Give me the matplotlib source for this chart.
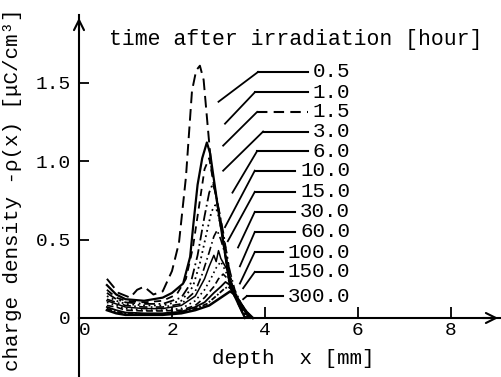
import matplotlib
matplotlib.use("Agg")
import matplotlib.pyplot as plt
import matplotlib.transforms as mtransforms

plt.rcParams['font.family'] = ['Liberation Mono', 'DejaVu Sans Mono', 'DejaVu Sans']

# ---- data ----
hours = ['0.5', '1.0', '1.5', '3.0', '6.0', '10.0', '15.0', '30.0', '60.0', '100.0', '150.0', '300.0']

depth_0_5 = [0.6, 0.85, 1.1, 1.25, 1.4, 1.6, 1.8, 2.0, 2.15, 2.3, 2.43, 2.52, 2.6, 2.68, 2.76, 2.85, 3.0, 3.25, 3.57]
rho_0_5 = [0.25, 0.16, 0.13, 0.18, 0.20, 0.15, 0.17, 0.30, 0.48, 0.90, 1.45, 1.58, 1.61, 1.52, 1.25, 0.95, 0.68, 0.20, 0.0]

depth_1_0 = [0.6, 0.8, 1.0, 1.4, 1.8, 2.0, 2.24, 2.39, 2.46, 2.55, 2.65, 2.75, 2.82, 3.0, 3.25, 3.57]
rho_1_0 = [0.21, 0.15, 0.12, 0.11, 0.13, 0.16, 0.22, 0.39, 0.60, 0.85, 1.02, 1.12, 1.05, 0.68, 0.20, 0.0]

depth_1_5 = [0.6, 0.8, 1.0, 1.4, 1.8, 2.1, 2.3, 2.45, 2.6, 2.7, 2.8, 2.9, 3.05, 3.25, 3.6]
rho_1_5 = [0.18, 0.13, 0.11, 0.10, 0.11, 0.15, 0.25, 0.45, 0.75, 0.95, 1.02, 0.85, 0.62, 0.22, 0.0]

depth_3_0 = [0.6, 0.8, 1.0, 1.4, 1.8, 2.2, 2.4, 2.55, 2.7, 2.8, 2.88, 2.95, 3.1, 3.3, 3.6]
rho_3_0 = [0.16, 0.12, 0.10, 0.09, 0.09, 0.13, 0.22, 0.40, 0.65, 0.80, 0.86, 0.78, 0.55, 0.18, 0.0]

depth_6_0 = [0.6, 0.8, 1.0, 1.4, 1.8, 2.2, 2.45, 2.6, 2.75, 2.85, 2.93, 3.0, 3.15, 3.3, 3.62]
rho_6_0 = [0.14, 0.11, 0.09, 0.08, 0.08, 0.11, 0.20, 0.35, 0.55, 0.68, 0.72, 0.65, 0.45, 0.20, 0.0]

depth_10 = [0.6, 0.8, 1.0, 1.4, 1.8, 2.2, 2.5, 2.65, 2.8, 2.9, 2.97, 3.05, 3.2, 3.35, 3.63]
rho_10 = [0.12, 0.10, 0.08, 0.07, 0.07, 0.09, 0.17, 0.28, 0.42, 0.52, 0.56, 0.50, 0.35, 0.18, 0.0]

depth_15 = [0.6, 0.8, 1.0, 1.4, 1.8, 2.2, 2.5, 2.7, 2.8, 2.9, 2.95, 3.0, 3.05, 3.2, 3.35, 3.65]
rho_15 = [0.11, 0.09, 0.07, 0.06, 0.06, 0.08, 0.14, 0.25, 0.33, 0.40, 0.36, 0.43, 0.38, 0.30, 0.16, 0.0]

depth_30 = [0.6, 0.8, 1.0, 1.4, 1.8, 2.2, 2.5, 2.7, 2.85, 2.95, 3.05, 3.15, 3.3, 3.45, 3.66]
rho_30 = [0.10, 0.08, 0.06, 0.05, 0.05, 0.06, 0.11, 0.18, 0.26, 0.32, 0.36, 0.30, 0.20, 0.10, 0.0]

depth_60 = [0.6, 0.8, 1.0, 1.4, 1.8, 2.2, 2.5, 2.7, 2.9, 3.0, 3.1, 3.2, 3.35, 3.5, 3.68]
rho_60 = [0.08, 0.07, 0.05, 0.045, 0.045, 0.05, 0.08, 0.13, 0.20, 0.25, 0.28, 0.25, 0.16, 0.07, 0.0]

depth_100 = [0.6, 0.8, 1.0, 1.4, 1.8, 2.2, 2.5, 2.7, 2.9, 3.05, 3.15, 3.25, 3.4, 3.55, 3.7]
rho_100 = [0.07, 0.05, 0.035, 0.03, 0.03, 0.04, 0.07, 0.10, 0.16, 0.20, 0.23, 0.21, 0.13, 0.06, 0.0]

depth_150 = [0.6, 0.8, 1.0, 1.4, 1.8, 2.2, 2.5, 2.75, 2.95, 3.1, 3.2, 3.3, 3.45, 3.58, 3.72]
rho_150 = [0.06, 0.04, 0.03, 0.025, 0.025, 0.035, 0.06, 0.09, 0.14, 0.18, 0.20, 0.18, 0.11, 0.05, 0.0]

depth_300 = [0.6, 0.8, 1.0, 1.4, 1.8, 2.2, 2.5, 2.8, 3.0, 3.15, 3.25, 3.35, 3.48, 3.6, 3.74]
rho_300 = [0.05, 0.03, 0.02, 0.02, 0.02, 0.03, 0.05, 0.08, 0.12, 0.15, 0.17, 0.15, 0.09, 0.04, 0.0]

depths = [depth_0_5, depth_1_0, depth_1_5, depth_3_0, depth_6_0, depth_10,
          depth_15, depth_30, depth_60, depth_100, depth_150, depth_300]
rhos = [rho_0_5, rho_1_0, rho_1_5, rho_3_0, rho_6_0, rho_10,
        rho_15, rho_30, rho_60, rho_100, rho_150, rho_300]

x_ticks = [0, 2, 4, 6, 8]
y_ticks = [0, 0.5, 1.0, 1.5]
y_tick_labels = ['0', '0.5', '1.0', '1.5']

# ---- styles / layout ----
styles = [(0, (6, 3)), '-', (0, (4, 3)), (0, (6, 2, 1, 2)), (0, (1, 2)), (0, (5, 2, 1, 2)),
          '-', (0, (1, 2)), (0, (4, 2)), '-', (0, (3, 1, 1, 1)), '-']
widths = [1.4, 1.6, 1.3, 1.3, 1.3, 1.2, 1.1, 1.2, 1.2, 1.3, 1.3, 1.8]

# leader lines: diagonal end -> knee, label row heights
leader_end = [(3.0, 1.38), (3.14, 1.24), (3.10, 1.10), (3.10, 0.94), (3.30, 0.80), (3.14, 0.58),
              (3.20, 0.49), (3.42, 0.45), (3.46, 0.33), (3.46, 0.22), (3.53, 0.19), (3.53, 0.12)]
knee_x = [3.85, 3.78, 3.83, 3.96, 3.83, 3.78, 3.78, 3.78, 3.78, 3.78, 3.78, 3.61]
row_y = [1.57, 1.44, 1.315, 1.19, 1.065, 0.94, 0.805, 0.677, 0.549, 0.421, 0.294, 0.14]
label_right = 5.83

fig = plt.figure(figsize=(5.01, 3.77), dpi=100)
ax = fig.add_axes([79 / 501, 0, 1 - 79 / 501, 1 - 15 / 377])
px_x = 46.5   # px per mm
px_y = 156.7  # px per unit
ax.set_xlim(0, (501 - 79) / px_x)
ax.set_ylim(-(377 - 318) / px_y, (318 - 15) / px_y)

for d, r, ls, lw in zip(depths, rhos, styles, widths):
    ax.plot(d, r, color='black', linestyle=ls, linewidth=lw)

# leaders and labels
for i, h in enumerate(hours):
    ex, ey = leader_end[i]
    kx = knee_x[i]
    yy = row_y[i]
    text_w = (len(h) * 12.5 + 5) / px_x
    hx_end = label_right - text_w
    ax.plot([ex, kx], [ey, yy], color='black', linewidth=1.3)
    hls = (0, (5, 3)) if h == '1.5' else '-'
    ax.plot([kx, hx_end], [yy, yy], color='black', linewidth=1.5, linestyle=hls)
    ax.text(label_right, yy, h, ha='right', va='center', fontsize=15)

# axes styling
for s in ['top', 'right']:
    ax.spines[s].set_visible(False)
ax.spines['bottom'].set_position(('data', 0))
ax.spines['left'].set_linewidth(1.5)
ax.spines['bottom'].set_linewidth(1.5)
ax.set_xticks(x_ticks)
ax.set_xticklabels([str(v) for v in x_ticks])
ax.set_yticks(y_ticks)
ax.set_yticklabels(y_tick_labels)
ax.tick_params(axis='x', direction='in', length=8, width=1.3, pad=3, labelsize=14)
ax.tick_params(axis='y', direction='in', length=7, width=1.3, pad=6, labelsize=14)
ax.xaxis.get_major_ticks()[0].tick1line.set_visible(False)
ax.yaxis.get_major_ticks()[0].tick1line.set_visible(False)
lbl0 = ax.get_xticklabels()[0]
lbl0.set_transform(lbl0.get_transform() + mtransforms.ScaledTranslation(6 / 100, 0, fig.dpi_scale_trans))

# arrowheads
ax.annotate('', xy=(1.0, 0), xycoords=('axes fraction', 'data'),
            xytext=(0.95, 0), textcoords=('axes fraction', 'data'),
            arrowprops=dict(arrowstyle='->', lw=1.5, color='black', mutation_scale=18))
ax.annotate('', xy=(0, 1.0), xycoords='axes fraction',
            xytext=(0, 0.95), textcoords='axes fraction',
            arrowprops=dict(arrowstyle='->', lw=1.5, color='black', mutation_scale=18))

fig.text(0.591, 0.894, 'time after irradiation [hour]', ha='center', va='center', fontsize=15.5)
fig.text(0.585, 0.05, 'depth  x [mm]', ha='center', va='center', fontsize=15)
fig.text(0.024, 0.496, 'charge density -ρ(x) [μC/cm³]', ha='center', va='center',
         rotation=90, fontsize=15)

fig.savefig('out.png', dpi=100)
